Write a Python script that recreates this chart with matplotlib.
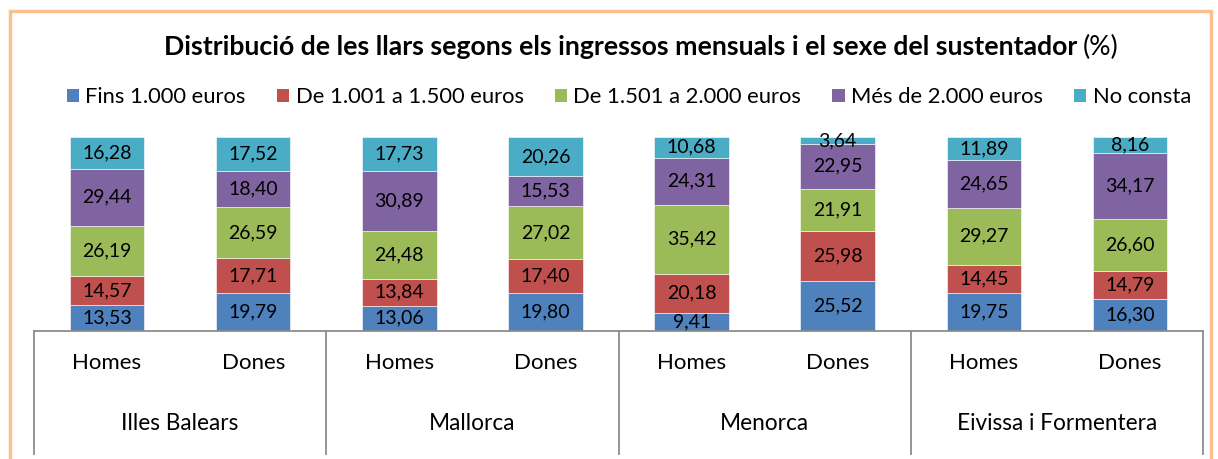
import matplotlib
matplotlib.use("Agg")
import matplotlib.pyplot as plt
from matplotlib.patches import Patch, Rectangle
from matplotlib.transforms import blended_transform_factory

# ---------------------------------------------------------------- data ----
regions = ["Illes Balears", "Mallorca", "Menorca", "Eivissa i Formentera"]
sexes = ["Homes", "Dones"]
series = ["Fins 1.000 euros", "De 1.001 a 1.500 euros", "De 1.501 a 2.000 euros",
          "Més de 2.000 euros", "No consta"]
fins_1000 = [13.53, 19.79, 13.06, 19.80, 9.41, 25.52, 19.75, 16.30]
de_1001_1500 = [14.57, 17.71, 13.84, 17.40, 20.18, 25.98, 14.45, 14.79]
de_1501_2000 = [26.19, 26.59, 24.48, 27.02, 35.42, 21.91, 29.27, 26.60]
mes_2000 = [29.44, 18.40, 30.89, 15.53, 24.31, 22.95, 24.65, 34.17]
no_consta = [16.28, 17.52, 17.73, 20.26, 10.68, 3.64, 11.89, 8.16]

COLORS = ["#4f81bd", "#c0504d", "#9bbb59", "#8064a2", "#4bacc6"]
GRID = "#8c8c8c"
BORDER = "#fac08f"

plt.rcParams["font.family"] = ["Lato", "DejaVu Sans"]

W, H = 1218, 459
fig = plt.figure(figsize=(W / 100, H / 100), dpi=100)

# orange chart frame (bottom edge runs off the picture)
fig.add_artist(Rectangle((10 / W, -0.05), 1201 / W, 1.05 - 11 / H, transform=fig.transFigure,
                         fill=False, edgecolor=BORDER, lw=2.5))

# plot area in pixels: x 34..1203, y 137..331 (from top)
ax = fig.add_axes([34 / W, 1 - 331 / H, 1169 / W, 194 / H])

stack = [fins_1000, de_1001_1500, de_1501_2000, mes_2000, no_consta]
x = list(range(len(fins_1000)))
bottom = [0.0] * len(x)
for name, vals, col in zip(series, stack, COLORS):
    ax.bar(x, vals, width=0.51, bottom=bottom, color=col, edgecolor="white", lw=0.4, label=name)
    for xi, v, b in zip(x, vals, bottom):
        ax.text(xi, b + v / 2, f"{v:.2f}".replace(".", ","), ha="center", va="center",
                fontsize=14, color="black")
    bottom = [b + v for b, v in zip(bottom, vals)]

ax.set_xlim(-0.5, len(x) - 0.5)
ax.set_ylim(0, 100)
ax.axis("off")

# category table under the bars
tr = blended_transform_factory(ax.transData, ax.transAxes)
ax.plot([-0.5, len(x) - 0.5], [0, 0], transform=tr, color=GRID, lw=1.3, clip_on=False)
for gx in [-0.5, 1.5, 3.5, 5.5, 7.5]:
    ax.plot([gx, gx], [0, -0.635], transform=tr, color=GRID, lw=1.3, clip_on=False)
for xi in x:
    ax.text(xi, -0.165, sexes[xi % 2], transform=tr, ha="center", va="center", fontsize=16)
for gi, reg in enumerate(regions):
    ax.text(2 * gi + 0.5, -0.475, reg, transform=tr, ha="center", va="center", fontsize=16.3)

# title: bold part + normal "(%)", centred together
ty = 1 - 47 / H
t1 = fig.text(0, ty, "Distribució de les llars segons els ingressos mensuals i el sexe del sustentador",
              ha="left", va="center", fontsize=19.2, fontweight="bold")
t2 = fig.text(0, ty, "(%)", ha="left", va="center", fontsize=19.2)
fig.canvas.draw()
w1 = t1.get_window_extent().width
w2 = t2.get_window_extent().width
gap = 6
x0 = 641 - (w1 + gap + w2) / 2
t1.set_x(x0 / W)
t2.set_x((x0 + w1 + gap) / W)

handles = [Patch(facecolor=c, edgecolor="none") for c in COLORS]
fig.legend(handles, series, loc="center", bbox_to_anchor=(629 / W, 1 - 97 / H), ncol=5,
           frameon=False, fontsize=15.8, handlelength=0.55, handleheight=0.55,
           handletextpad=0.3, columnspacing=1.42, borderaxespad=0, borderpad=0)

fig.savefig("out.png", dpi=100)
